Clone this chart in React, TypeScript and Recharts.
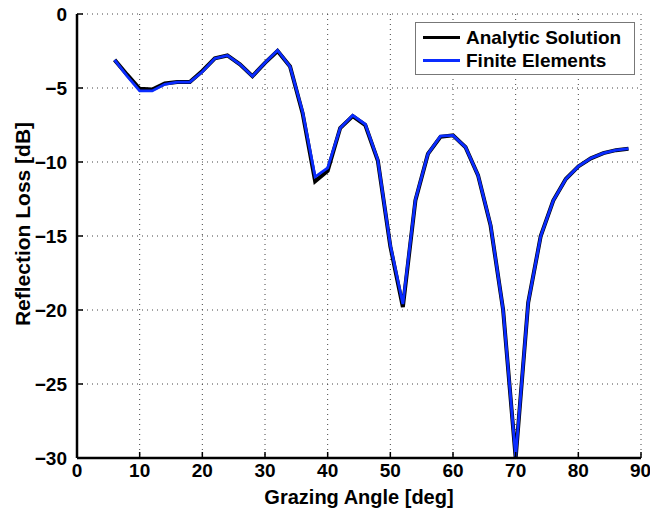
import { LineChart, Line, XAxis, YAxis, CartesianGrid } from 'recharts';

// grazing angles, every 2 degrees
const angles = [6, 8, 10, 12, 14, 16, 18, 20, 22, 24, 26, 28, 30, 32, 34, 36, 38, 40, 42, 44, 46, 48, 50, 52, 54, 56, 58, 60, 62, 64, 66, 68, 70, 72, 74, 76, 78, 80, 82, 84, 86, 88];

const analytic = [-3.1, -4.1, -5.05, -5.1, -4.7, -4.6, -4.6, -3.85, -3.0, -2.8, -3.4, -4.2, -3.3, -2.5, -3.55, -6.7, -11.3, -10.6, -7.7, -6.9, -7.5, -9.9, -15.7, -19.8, -12.6, -9.45, -8.3, -8.2, -9.0, -10.9, -14.3, -20.0, -30.0, -19.5, -15.0, -12.6, -11.15, -10.3, -9.75, -9.4, -9.2, -9.1];

const finiteElements = [-3.1, -4.2, -5.2, -5.2, -4.75, -4.6, -4.6, -3.9, -3.0, -2.8, -3.4, -4.2, -3.3, -2.45, -3.55, -6.6, -11.0, -10.4, -7.7, -6.85, -7.45, -9.85, -15.6, -19.6, -12.55, -9.45, -8.25, -8.2, -9.0, -10.9, -14.25, -20.0, -29.9, -19.5, -15.0, -12.6, -11.15, -10.3, -9.75, -9.4, -9.2, -9.1];

const xTicks = [0, 10, 20, 30, 40, 50, 60, 70, 80, 90];
const yTicks = [0, -5, -10, -15, -20, -25, -30];

const data = angles.map((a, i) => ({ angle: a, analytic: analytic[i], fe: finiteElements[i] }));

const font = '"Liberation Sans", Arial, Helvetica, sans-serif';
const tickStyle = { fontSize: 19, fontWeight: 700, fill: '#000', fontFamily: font };
const fmt = (v: number) => String(v).replace('-', '\u2212');
const blank = () => '';

function LegendBox() {
  const rows = [
    { label: 'Analytic Solution', color: '#000', w: 3.5 },
    { label: 'Finite Elements', color: '#0a2cff', w: 2.5 },
  ];
  return (
    <div style={{ position: 'absolute', left: 415, top: 22, border: '1px solid #777', background: '#fff', width: 220, height: 53, boxSizing: 'border-box', padding: '3px 0 0 7px' }}>
      {rows.map(r => (
        <div key={r.label} style={{ display: 'flex', alignItems: 'center', height: 23 }}>
          <div style={{ width: 37, height: r.w, background: r.color, marginRight: 6 }} />
          <span style={{ fontSize: 19, fontWeight: 700, fontFamily: font, color: '#000', lineHeight: '23px' }}>{r.label}</span>
        </div>
      ))}
    </div>
  );
}

export default function App() {
  return (
    <div style={{ position: 'absolute', left: 0, top: 0, width: 650, height: 508, background: '#fff' }}>
      <LineChart width={650} height={508} data={data} margin={{ top: 14, right: 9, bottom: 0, left: 17 }}>
        <CartesianGrid stroke="#444" strokeDasharray="1 4" strokeWidth={1} />
        <XAxis
          dataKey="angle" type="number" domain={[0, 90]} ticks={xTicks} height={50}
          axisLine={{ stroke: '#000', strokeWidth: 2.5 }} tickLine={{ stroke: '#000', strokeWidth: 1.5 }}
          tickSize={-6} tickMargin={12} tick={tickStyle}
          label={{ value: 'Grazing Angle [deg]', position: 'insideBottom', offset: 4, style: { fontSize: 20, fontWeight: 700, fill: '#000', fontFamily: font } }}
        />
        <XAxis
          xAxisId="top" orientation="top" dataKey="angle" type="number" domain={[0, 90]} ticks={xTicks} height={0}
          axisLine={{ stroke: '#000', strokeWidth: 2.5 }} tickLine={{ stroke: '#000', strokeWidth: 1.5 }}
          tickSize={-6} tickFormatter={blank}
        />
        <YAxis
          type="number" domain={[-30, 0]} ticks={yTicks} width={60}
          axisLine={{ stroke: '#000', strokeWidth: 2.5 }} tickLine={{ stroke: '#000', strokeWidth: 1.5 }}
          tickSize={-6} tickMargin={16} tick={tickStyle} tickFormatter={fmt}
          label={{ value: 'Reflection Loss [dB]', angle: -90, position: 'center', dx: -24, dy: -12, style: { fontSize: 21, fontWeight: 700, fill: '#000', fontFamily: font } }}
        />
        <YAxis
          yAxisId="right" orientation="right" type="number" domain={[-30, 0]} ticks={yTicks} width={0}
          axisLine={{ stroke: '#000', strokeWidth: 2.5 }} tickLine={{ stroke: '#000', strokeWidth: 1.5 }}
          tickSize={-6} tickFormatter={blank}
        />
        <Line dataKey="analytic" stroke="#000" strokeWidth={4} dot={false} isAnimationActive={false} />
        <Line dataKey="fe" stroke="#0a2cff" strokeWidth={2.8} dot={false} isAnimationActive={false} />
      </LineChart>
      <LegendBox />
    </div>
  );
}
